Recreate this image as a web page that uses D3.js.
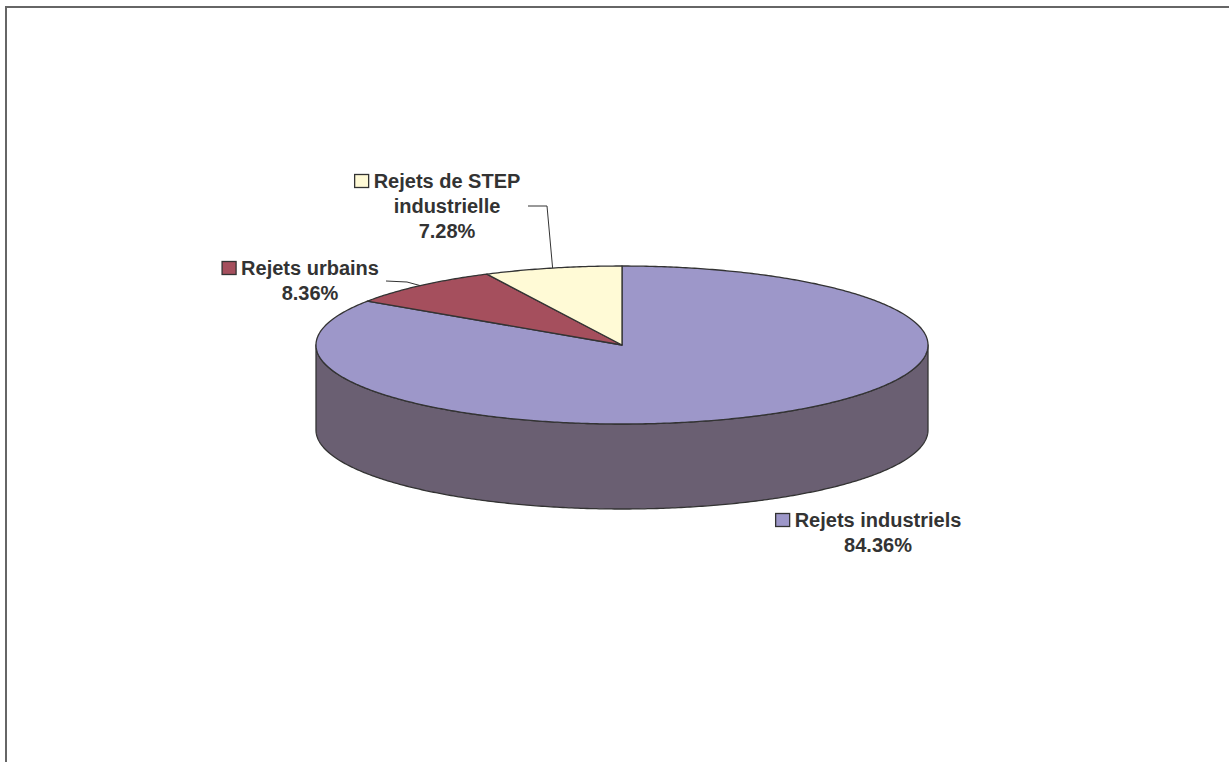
<!DOCTYPE html>
<html><head><meta charset="utf-8">
<script src="https://cdn.jsdelivr.net/npm/d3@7"></script>
<style>html,body{margin:0;padding:0;background:#fff;overflow:hidden}</style>
</head><body>
<script>
const categories = ["Rejets industriels", "Rejets urbains", "Rejets de STEP industrielle"];
const values = [84.36, 8.36, 7.28];
const labelLines = [["Rejets industriels", "84.36%"], ["Rejets urbains", "8.36%"], ["Rejets de STEP", "industrielle", "7.28%"]];
const topColors = ["#9d97c9", "#a54f5d", "#fffad6"];
const sideColors = ["#6a5f72", "#6e3540", "#bfbca0"];

const W = 1229, H = 762;
const svg = d3.select("body").append("svg").attr("width", W).attr("height", H);
svg.append("rect").attr("x", 6).attr("y", 7).attr("width", 1400).attr("height", 900)
  .attr("fill", "none").attr("stroke", "#666").attr("stroke-width", 2);

const cx = 622, cy = 345, rx = 306, ry = 79, depth = 85;
const pie = d3.pie().sort(null).value(d => d)(values);
const pt = (a, dy = 0) => [cx + rx * Math.sin(a), cy - ry * Math.cos(a) + dy];

function arcPts(a0, a1, dy) {
  const n = Math.max(2, Math.ceil(Math.abs(a1 - a0) / 0.01));
  return d3.range(n + 1).map(i => pt(a0 + (a1 - a0) * i / n, dy));
}
const line = d3.line();

const g = svg.append("g");
pie.forEach((s, i) => {
  const a0 = Math.max(s.startAngle, Math.PI / 2), a1 = Math.min(s.endAngle, 3 * Math.PI / 2);
  if (a1 <= a0) return;
  const top = arcPts(a0, a1, 0), bot = arcPts(a1, a0, depth);
  g.append("path").attr("d", line(top.concat(bot)) + "Z")
    .attr("fill", sideColors[i]).attr("stroke", "#333").attr("stroke-width", 1.3).attr("stroke-linejoin", "round");
});
pie.forEach((s, i) => {
  const pts = [[cx, cy]].concat(arcPts(s.startAngle, s.endAngle, 0));
  g.append("path").attr("d", line(pts) + "Z")
    .attr("fill", topColors[i]).attr("stroke", "#333").attr("stroke-width", 1.3).attr("stroke-linejoin", "round");
});

const labelPos = [[878, 527], [310, 275], [447, 188]];
const leader = [null, [[386, 281], [407, 282]], [[528, 206], [547, 206]]];
const fs = 20, lh = 25;
const keySize = 14;
pie.forEach((s, i) => {
  const [lx, ly] = labelPos[i];
  const t = svg.append("text").attr("text-anchor", "middle")
    .attr("font-family", "Liberation Sans, Arial, sans-serif").attr("font-weight", "bold")
    .attr("font-size", fs).attr("fill", "#333");
  labelLines[i].forEach((l, k) => t.append("tspan").attr("x", lx).attr("y", ly + k * lh).text(l));
  const w = t.select("tspan").node().getComputedTextLength();
  svg.append("rect").attr("x", lx - w / 2 - keySize - 5).attr("y", ly - keySize + 0.5)
    .attr("width", keySize).attr("height", keySize - 1)
    .attr("fill", topColors[i]).attr("stroke", "#333").attr("stroke-width", 1.3);
  if (leader[i]) {
    const mid = (s.startAngle + s.endAngle) / 2;
    svg.append("path").attr("d", line(leader[i].concat([pt(mid)])))
      .attr("fill", "none").attr("stroke", "#333").attr("stroke-width", 1);
  }
});
</script>
</body></html>
